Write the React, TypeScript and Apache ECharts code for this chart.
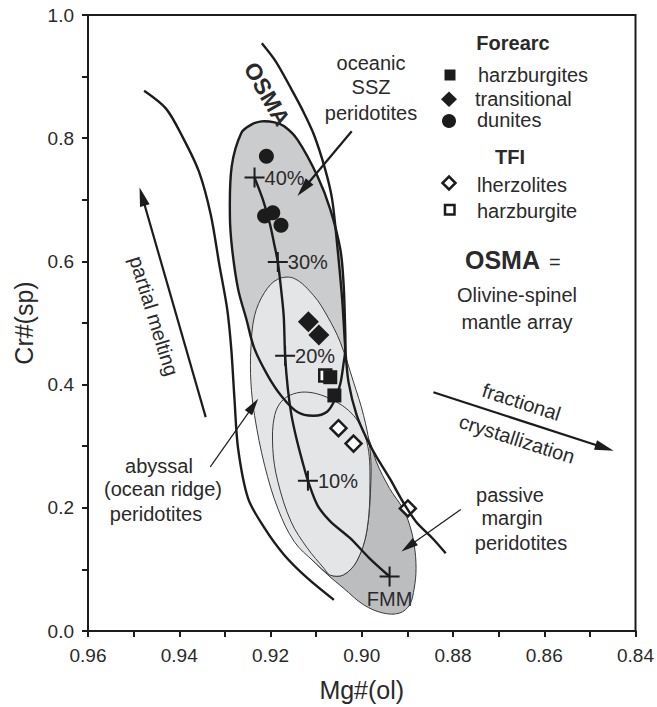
import React, { useEffect, useRef } from 'react';
import * as echarts from 'echarts';

const FONT = '"Liberation Sans", Arial, Helvetica, sans-serif';
const INK = '#1c1c1c';
const TEXT = '#2a2a2a';

// ---- axes ----
const X_MIN = 0.84;
const X_MAX = 0.96;
const X_STEP = 0.01;
const Y_MIN = 0;
const Y_MAX = 1.0;
const Y_STEP = 0.1;

// ---- data points: [Mg#(ol), Cr#(sp)] ----
const forearcHarzburgites = [[0.9069, 0.412], [0.906, 0.3824]];
const forearcTransitional = [[0.9117, 0.5021], [0.9094, 0.4806]];
const forearcDunites = [[0.9209, 0.7707], [0.9213, 0.6736], [0.9195, 0.6791], [0.9177, 0.6586]];
const tfiLherzolites = [[0.9051, 0.3293], [0.9018, 0.3042], [0.8899, 0.199]];
const tfiHarzburgite = [[0.908, 0.4147]];

// ---- melting trend ----
const meltingNames = ['40%', '30%', '20%', '10%', 'FMM'];
const meltingMarks = [[0.9235, 0.736], [0.9184, 0.599], [0.9168, 0.447], [0.9118, 0.244], [0.8939, 0.0885]];
const meltingCurve = [
  [0.9235, 0.736], [0.9217, 0.701], [0.9201, 0.66], [0.9191, 0.625], [0.9184, 0.599], [0.9178, 0.563],
  [0.9171, 0.511], [0.9168, 0.447], [0.9162, 0.393], [0.9154, 0.35], [0.9143, 0.312], [0.913, 0.275],
  [0.9118, 0.244], [0.9097, 0.204], [0.9069, 0.178], [0.9026, 0.151], [0.8983, 0.118], [0.8939, 0.0885],
];

// ---- OSMA band ----
const osmaLeft = [
  [0.9477, 0.877], [0.9429, 0.848], [0.9392, 0.801], [0.9357, 0.746], [0.9331, 0.676], [0.9312, 0.594],
  [0.9295, 0.523], [0.9286, 0.458], [0.9279, 0.377], [0.9271, 0.296], [0.9249, 0.215], [0.9213, 0.167],
  [0.917, 0.1235], [0.9119, 0.0858], [0.9061, 0.0506],
];
const osmaRight = [
  [0.9219, 0.954], [0.9188, 0.924], [0.9156, 0.882], [0.913, 0.846], [0.9105, 0.806], [0.908, 0.749],
  [0.9065, 0.701], [0.9054, 0.628], [0.9043, 0.539], [0.9036, 0.458], [0.9029, 0.404], [0.9011, 0.35],
  [0.8989, 0.312], [0.8968, 0.283], [0.8939, 0.248], [0.891, 0.21], [0.8881, 0.1775], [0.8845, 0.1505],
  [0.8816, 0.1262],
];

// ---- fields ----
const sszField = [
  [0.9264, 0.8086], [0.9242, 0.822], [0.922, 0.8273], [0.9191, 0.8257], [0.917, 0.8193], [0.9141, 0.7977],
  [0.9097, 0.7383], [0.9069, 0.6845], [0.9047, 0.6197], [0.904, 0.5659], [0.9037, 0.5065], [0.9036, 0.4579],
  [0.904, 0.4337], [0.9047, 0.4013], [0.9058, 0.377], [0.9076, 0.356], [0.9105, 0.3495], [0.9141, 0.3555],
  [0.9177, 0.3824], [0.9206, 0.4147], [0.9235, 0.4579], [0.9253, 0.5065], [0.9271, 0.555], [0.9284, 0.6197],
  [0.9289, 0.6736], [0.9285, 0.7545],
];
const abyssalField = [
  [0.9184, 0.5712], [0.9148, 0.5723], [0.9105, 0.5442], [0.9076, 0.5118], [0.9047, 0.4688], [0.9018, 0.404],
  [0.8996, 0.35], [0.8982, 0.2961], [0.898, 0.2427], [0.8989, 0.1618], [0.9011, 0.1133], [0.904, 0.0911],
  [0.9069, 0.0911], [0.9105, 0.1128], [0.9148, 0.1451], [0.9184, 0.199], [0.9213, 0.2691], [0.9235, 0.35],
  [0.9243, 0.4045], [0.9243, 0.4579], [0.9235, 0.5118], [0.9213, 0.5497],
];
const abyssalInner = [
  [0.9126, 0.3879], [0.9069, 0.377], [0.9018, 0.35], [0.8989, 0.3074], [0.8982, 0.2427], [0.8989, 0.1618],
  [0.9011, 0.1133], [0.904, 0.0911], [0.9069, 0.0906], [0.9083, 0.1019], [0.9119, 0.1343], [0.9155, 0.1775],
  [0.9184, 0.2427], [0.9195, 0.2961], [0.9191, 0.35], [0.917, 0.377],
];
const passiveField = [
  [0.9011, 0.3447], [0.8985, 0.3123], [0.8968, 0.2746], [0.8939, 0.2314], [0.891, 0.199], [0.8895, 0.172],
  [0.8885, 0.1397], [0.8881, 0.1019], [0.8885, 0.0696], [0.8895, 0.0426], [0.8917, 0.0291], [0.8953, 0.0291],
  [0.8996, 0.0426], [0.904, 0.0696], [0.9076, 0.0922], [0.9119, 0.1246], [0.9152, 0.1667], [0.9141, 0.2476],
  [0.9076, 0.3123],
];

// ---- arrows: [x tail, y tail, x tip, y tip] ----
const arrowsThick = [
  [0.9022, 0.8112, 0.9141, 0.706],
  [0.9342, 0.3472, 0.9487, 0.7201],
  [0.8843, 0.3875, 0.8448, 0.2926],
];
const arrowsThin = [
  [0.9332, 0.2665, 0.9227, 0.377],
  [0.8783, 0.1974, 0.8913, 0.129],
];

const polySeries = (pts: number[][], fill: string, stroke: string, lw: number, smooth = 0.35) => ({
  type: 'custom',
  coordinateSystem: 'cartesian2d',
  silent: true,
  clip: false,
  data: [[0.9, 0.5]],
  renderItem: (_p: any, api: any) => ({
    type: 'polygon',
    shape: { points: pts.map((p) => api.coord(p)), smooth },
    style: { fill, stroke, lineWidth: lw },
  }),
});

const arrowSeries = (arrs: number[][], lw: number, headLen: number, headW: number) => ({
  type: 'custom',
  coordinateSystem: 'cartesian2d',
  silent: true,
  clip: false,
  data: arrs,
  encode: { x: [0, 2], y: [1, 3] },
  renderItem: (_p: any, api: any) => {
    const a = api.coord([api.value(0), api.value(1)]);
    const b = api.coord([api.value(2), api.value(3)]);
    const dx = b[0] - a[0];
    const dy = b[1] - a[1];
    const L = Math.hypot(dx, dy) || 1;
    const ux = dx / L;
    const uy = dy / L;
    const bx = b[0] - ux * headLen;
    const by = b[1] - uy * headLen;
    const px = (-uy * headW) / 2;
    const py = (ux * headW) / 2;
    return {
      type: 'group',
      children: [
        {
          type: 'line',
          shape: { x1: a[0], y1: a[1], x2: bx + ux * 2, y2: by + uy * 2 },
          style: { stroke: INK, lineWidth: lw },
        },
        {
          type: 'polygon',
          shape: { points: [[b[0], b[1]], [bx + px, by + py], [bx - px, by - py]] },
          style: { fill: INK },
        },
      ],
    };
  },
});

const lineSeries = (pts: number[][], width: number) => ({
  type: 'line',
  data: pts,
  smooth: 0.3,
  showSymbol: false,
  symbol: 'none',
  silent: true,
  lineStyle: { color: INK, width, opacity: 1 },
});

const txt = (
  text: string,
  x: number,
  y: number,
  size = 20,
  opts: { bold?: boolean; rotation?: number; align?: string } = {}
) => ({
  type: 'text',
  x,
  y,
  rotation: opts.rotation || 0,
  silent: true,
  z: 100,
  style: {
    text,
    font: `${opts.bold ? 'bold ' : ''}${size}px ${FONT}`,
    fill: TEXT,
    textAlign: opts.align || 'center',
    textVerticalAlign: 'middle',
    align: opts.align || 'center',
    verticalAlign: 'middle',
  },
});

const PLUS = 'path://M9,0H11V9H20V11H11V20H9V11H0V9H9Z';

export default function App() {
  const ref = useRef<HTMLDivElement>(null);

  useEffect(() => {
    if (!ref.current) return;
    const chart = echarts.init(ref.current, undefined, { renderer: 'svg' });

    const option: any = {
      animation: false,
      backgroundColor: '#ffffff',
      textStyle: { fontFamily: FONT },
      grid: {
        left: 88,
        right: 15,
        top: 15,
        bottom: 74,
        show: true,
        borderColor: INK,
        borderWidth: 2,
        backgroundColor: 'transparent',
      },
      xAxis: {
        type: 'value',
        min: X_MIN,
        max: X_MAX,
        interval: X_STEP,
        inverse: true,
        name: 'Mg#(ol)',
        nameLocation: 'middle',
        nameGap: 46,
        nameTextStyle: { fontSize: 25, color: TEXT, fontFamily: FONT },
        axisLine: { show: true, onZero: false, lineStyle: { color: INK, width: 2 } },
        axisTick: { show: true, inside: false, length: 6, lineStyle: { color: INK, width: 2 } },
        axisLabel: {
          fontSize: 19,
          color: TEXT,
          margin: 15,
          formatter: (v: number) => (Math.round(v * 100) % 2 === 0 ? v.toFixed(2) : ''),
        },
        splitLine: { show: false },
      },
      yAxis: {
        type: 'value',
        min: Y_MIN,
        max: Y_MAX,
        interval: Y_STEP,
        name: 'Cr#(sp)',
        nameLocation: 'middle',
        nameGap: 52,
        nameTextStyle: { fontSize: 25, color: TEXT, fontFamily: FONT },
        axisLine: { show: true, onZero: false, lineStyle: { color: INK, width: 2 } },
        axisTick: { show: true, inside: false, length: 6, lineStyle: { color: INK, width: 2 } },
        axisLabel: {
          fontSize: 19,
          color: TEXT,
          margin: 14,
          formatter: (v: number) => (Math.round(v * 10) % 2 === 0 ? v.toFixed(1) : ''),
        },
        splitLine: { show: false },
      },
      series: [
        polySeries(passiveField, '#bcbdbf', '#3a3a3a', 1),
        polySeries(sszField, '#cbccce', 'none', 0),
        polySeries(abyssalField, '#e4e5e7', '#3a3a3a', 1),
        polySeries(abyssalInner, '#e4e5e7', '#3a3a3a', 1),
        polySeries(sszField, 'none', INK, 2.4),
        lineSeries(osmaLeft, 2.4),
        lineSeries(osmaRight, 2.4),
        lineSeries(meltingCurve, 2.4),
        arrowSeries(arrowsThick, 2.2, 19, 10),
        arrowSeries(arrowsThin, 1.2, 17, 9),
        {
          type: 'scatter',
          name: 'TFI harzburgite',
          data: tfiHarzburgite,
          symbol: 'rect',
          symbolSize: 12,
          itemStyle: { color: '#ffffff', borderColor: INK, borderWidth: 2.5, opacity: 1 },
          silent: true,
        },
        {
          type: 'scatter',
          name: 'Forearc harzburgites',
          data: forearcHarzburgites,
          symbol: 'rect',
          symbolSize: 14,
          itemStyle: { color: INK, opacity: 1 },
          silent: true,
        },
        {
          type: 'scatter',
          name: 'Forearc transitional',
          data: forearcTransitional,
          symbol: 'diamond',
          symbolSize: 21,
          itemStyle: { color: INK, opacity: 1 },
          silent: true,
        },
        {
          type: 'scatter',
          name: 'Forearc dunites',
          data: forearcDunites,
          symbol: 'circle',
          symbolSize: 15,
          itemStyle: { color: INK, opacity: 1 },
          silent: true,
        },
        {
          type: 'scatter',
          name: 'TFI lherzolites',
          data: tfiLherzolites,
          symbol: 'diamond',
          symbolSize: 16,
          itemStyle: { color: '#ffffff', borderColor: INK, borderWidth: 2.5, opacity: 1 },
          silent: true,
        },
        {
          type: 'scatter',
          name: 'Melting',
          data: meltingMarks.map((v, i) => ({
            name: meltingNames[i],
            value: v,
            label:
              meltingNames[i] === 'FMM'
                ? { position: 'bottom', distance: 3 }
                : { position: 'right', distance: 0 },
          })),
          symbol: PLUS,
          symbolSize: 20,
          itemStyle: { color: INK, opacity: 1 },
          label: {
            show: true,
            formatter: '{b}',
            fontSize: 20,
            color: TEXT,
            fontFamily: FONT,
          },
          silent: true,
          z: 5,
        },
      ],
      graphic: [
        // OSMA band label
        txt('OSMA', 267, 94, 23, { bold: true, rotation: -1.05 }),
        // field labels
        txt('oceanic', 371, 63),
        txt('SSZ', 371, 87),
        txt('peridotites', 371, 113),
        txt('abyssal', 159, 466),
        txt('(ocean ridge)', 163, 489),
        txt('peridotites', 156, 514),
        txt('passive', 510, 495),
        txt('margin', 512, 518),
        txt('peridotites', 521, 543),
        txt('partial melting', 154, 316, 20, { rotation: -1.27 }),
        txt('fractional', 521.5, 402, 20, { rotation: -0.31 }),
        txt('crystallization', 517, 439, 20, { rotation: -0.31 }),
        // OSMA definition
        txt('OSMA', 465, 260, 25, { bold: true, align: 'left' }),
        txt('=', 549, 262, 20, { align: 'left' }),
        txt('Olivine-spinel', 517, 295),
        txt('mantle array', 517, 322),
        // legend
        txt('Forearc', 513, 43, 20, { bold: true }),
        { type: 'rect', silent: true, z: 100, shape: { x: 444.5, y: 69.5, width: 11, height: 11 }, style: { fill: INK } },
        txt('harzburgites', 478, 75, 20, { align: 'left' }),
        {
          type: 'polygon', silent: true, z: 100,
          shape: { points: [[449, 91.5], [457, 99.3], [449, 107], [441, 99.3]] },
          style: { fill: INK },
        },
        txt('transitional', 475, 99, 20, { align: 'left' }),
        { type: 'circle', silent: true, z: 100, shape: { cx: 449, cy: 121, r: 7 }, style: { fill: INK } },
        txt('dunites', 477, 120, 20, { align: 'left' }),
        txt('TFI', 510, 157, 20, { bold: true }),
        {
          type: 'polygon', silent: true, z: 100,
          shape: { points: [[449, 176.5], [455.5, 183], [449, 189.5], [442.5, 183]] },
          style: { fill: '#ffffff', stroke: INK, lineWidth: 2.5 },
        },
        txt('lherzolites', 477, 185, 20, { align: 'left' }),
        {
          type: 'rect', silent: true, z: 100,
          shape: { x: 445, y: 205, width: 9.5, height: 9.5 },
          style: { fill: '#ffffff', stroke: INK, lineWidth: 2.5 },
        },
        txt('harzburgite', 477, 211, 20, { align: 'left' }),
      ],
    };

    chart.setOption(option);
    return () => chart.dispose();
  }, []);

  return (
    <div
      ref={ref}
      style={{ position: 'absolute', left: 0, top: 0, width: 657, height: 707, background: '#fff' }}
    />
  );
}
